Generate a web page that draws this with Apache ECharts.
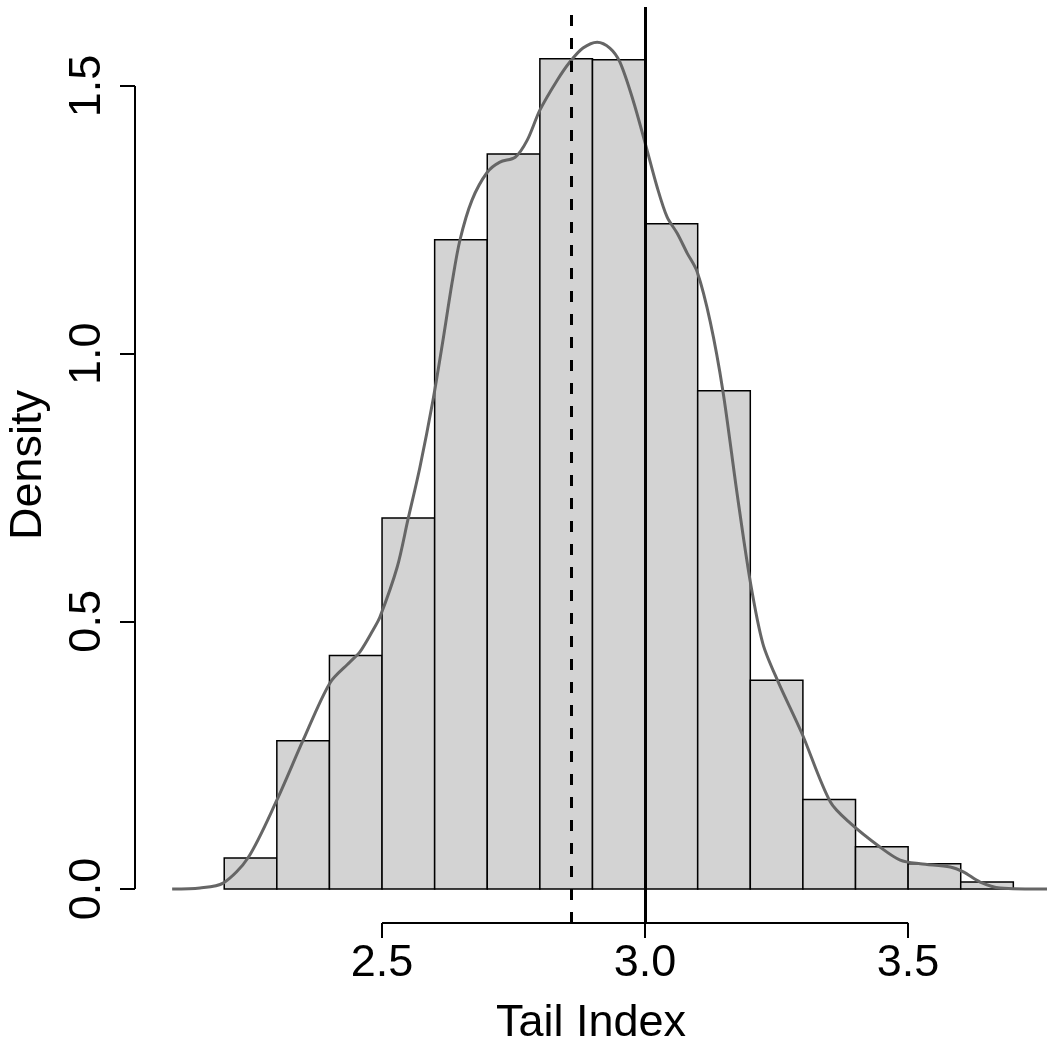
<!DOCTYPE html>
<html>
<head>
<meta charset="utf-8">
<script src="https://cdn.jsdelivr.net/npm/echarts@6/dist/echarts.min.js"></script>
<style>
  html, body { margin: 0; padding: 0; background: #fff; }
  #chart { width: 1050px; height: 1050px; }
</style>
</head>
<body>
<div id="chart"></div>
<script>
// histogram bins (lower edge, upper edge) and densities
var binLo = [2.2, 2.3, 2.4, 2.5, 2.6, 2.7, 2.8, 2.9, 3.0, 3.1, 3.2, 3.3, 3.4, 3.5, 3.6];
var binHi = [2.3, 2.4, 2.5, 2.6, 2.7, 2.8, 2.9, 3.0, 3.1, 3.2, 3.3, 3.4, 3.5, 3.6, 3.7];
var binDensity = [0.058, 0.277, 0.436, 0.693, 1.213, 1.373, 1.551, 1.549, 1.243, 0.931, 0.390, 0.167, 0.079, 0.047, 0.013];

// kernel density curve
var densX = [2.101, 2.154, 2.198, 2.245, 2.300, 2.350, 2.401, 2.439, 2.458, 2.483, 2.496, 2.529, 2.549, 2.572, 2.597,
             2.616, 2.633, 2.648, 2.671, 2.700, 2.724, 2.753, 2.776, 2.800, 2.833, 2.857, 2.882, 2.909, 2.933, 2.952,
             2.977, 3.000, 3.023, 3.042, 3.061, 3.080, 3.099, 3.124, 3.148, 3.175, 3.200, 3.224, 3.253, 3.298, 3.352,
             3.390, 3.447, 3.485, 3.523, 3.580, 3.605, 3.637, 3.675, 3.764];
var densY = [0.000, 0.002, 0.011, 0.058, 0.166, 0.278, 0.385, 0.424, 0.443, 0.484, 0.508, 0.602, 0.689, 0.788, 0.914,
             1.026, 1.132, 1.212, 1.287, 1.339, 1.358, 1.367, 1.399, 1.455, 1.511, 1.545, 1.571, 1.582, 1.571, 1.545,
             1.474, 1.394, 1.311, 1.255, 1.225, 1.188, 1.153, 1.059, 0.930, 0.738, 0.574, 0.458, 0.387, 0.291, 0.163,
             0.123, 0.078, 0.054, 0.047, 0.041, 0.032, 0.013, 0.002, 0.000];

var xTicks = [2.5, 3.0, 3.5];
var yTicks = [0.0, 0.5, 1.0, 1.5];
var refLines = [2.857, 3.0];   // dashed, solid

var xMin = 2.0304, xMax = 3.764;
var yMin = -0.0635, yMax = 1.6477;

var chart = echarts.init(document.getElementById('chart'));

var bins = binLo.map(function (lo, i) { return [lo, binHi[i], binDensity[i]]; });
var curve = densX.map(function (x, i) { return [x, densY[i]]; });
var font = 'Liberation Sans, Arial, Helvetica, sans-serif';

var option = {
    animation: false,
    backgroundColor: '#fff',
    grid: { left: 135, right: 3, top: 7, bottom: 127, outerBoundsMode: 'none', containLabel: false },
    xAxis: {
        type: 'value',
        min: xMin,
        max: xMax,
        name: 'Tail Index',
        nameLocation: 'middle',
        nameGap: 78,
        nameTextStyle: { fontFamily: font, fontSize: 45, color: '#000' },
        axisLine: { show: false, onZero: false },
        splitLine: { show: false },
        axisTick: { show: true, customValues: xTicks, length: 15, lineStyle: { color: '#000', width: 2 } },
        axisLabel: {
            customValues: xTicks, margin: 18, fontFamily: font, fontSize: 45, color: '#000',
            formatter: function (v) { return v.toFixed(1); }
        }
    },
    yAxis: {
        type: 'value',
        min: yMin,
        max: yMax,
        name: 'Density',
        nameLocation: 'middle',
        nameGap: 84,
        nameRotate: 90,
        nameTextStyle: { fontFamily: font, fontSize: 45, color: '#000' },
        axisLine: { show: false, onZero: false },
        splitLine: { show: false },
        axisTick: { show: true, customValues: yTicks, length: 15, lineStyle: { color: '#000', width: 2 } },
        axisLabel: {
            customValues: yTicks, rotate: 90, margin: 25, fontFamily: font, fontSize: 45, color: '#000',
            formatter: function (v) { return v.toFixed(1); }
        }
    },
    series: [
        {
            // histogram bars
            type: 'custom',
            data: bins,
            encode: { x: [0, 1], y: 2 },
            renderItem: function (params, api) {
                var p0 = api.coord([api.value(0), api.value(2)]);
                var p1 = api.coord([api.value(1), 0]);
                return {
                    type: 'rect',
                    shape: { x: p0[0], y: p0[1], width: p1[0] - p0[0], height: p1[1] - p0[1] },
                    style: { fill: '#d3d3d3', stroke: '#000', lineWidth: 1.5 }
                };
            },
            z: 1
        },
        {
            // density curve + reference lines
            type: 'line',
            data: curve,
            smooth: 0.3,
            symbol: 'none',
            lineStyle: { color: '#666666', width: 3 },
            z: 3,
            markLine: {
                silent: true,
                symbol: 'none',
                label: { show: false },
                data: [
                    { xAxis: refLines[0], lineStyle: { color: '#000', width: 3, type: [11, 12] } },
                    { xAxis: refLines[1], lineStyle: { color: '#000', width: 3, type: 'solid' } }
                ]
            }
        },
        {
            // x axis line between first and last tick (R style)
            type: 'line',
            data: [[xTicks[0], yMin], [xTicks[xTicks.length - 1], yMin]],
            symbol: 'none',
            clip: false,
            lineStyle: { color: '#000', width: 2 },
            z: 4
        },
        {
            // y axis line between first and last tick
            type: 'line',
            data: [[xMin, yTicks[0]], [xMin, yTicks[yTicks.length - 1]]],
            symbol: 'none',
            clip: false,
            lineStyle: { color: '#000', width: 2 },
            z: 4
        }
    ]
};

chart.setOption(option);
</script>
</body>
</html>
